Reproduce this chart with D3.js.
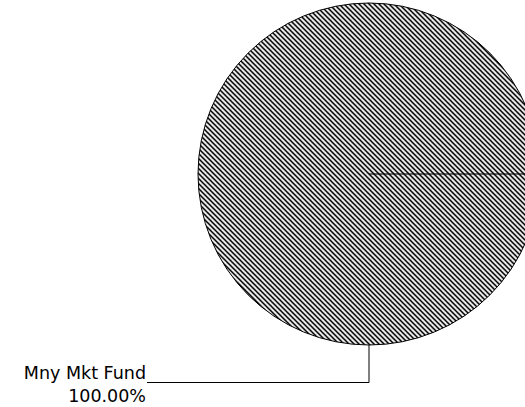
<!DOCTYPE html>
<html>
<head>
<meta charset="utf-8">
<script src="https://cdn.jsdelivr.net/npm/d3@7"></script>
<style>
  body { margin: 0; background: #fff; }
  svg { display: block; }
  text { font-family: "DejaVu Sans", Verdana, sans-serif; font-size: 17.5px; fill: #000; }
</style>
</head>
<body>
<svg width="525" height="407"></svg>
<script>
var labels = ["Mny Mkt Fund"];
var values = [100];
var pctLabels = ["100.00%"];

var svg = d3.select("svg"),
    cx = 369,
    cy = 174,
    radius = 171;

// hatched fill
var defs = svg.append("defs");
var pat = defs.append("pattern")
    .attr("id", "hatch")
    .attr("patternUnits", "userSpaceOnUse")
    .attr("width", 5)
    .attr("height", 5);
pat.append("rect")
    .attr("width", 5)
    .attr("height", 5)
    .attr("fill", "#9a9a9a");
pat.append("path")
    .attr("d", "M0,2.5L2.5,5M2.5,0L5,2.5")
    .attr("stroke", "#ffffff")
    .attr("stroke-width", 1.2);
pat.append("path")
    .attr("d", "M-1,-1L6,6M-1,4L1,6M4,-1L6,1")
    .attr("stroke", "#000")
    .attr("stroke-width", 1.2);

var pie = d3.pie()
    .sort(null)
    .startAngle(Math.PI / 2)
    .endAngle(Math.PI / 2 + 2 * Math.PI);

var arcs = pie(values);

var arc = d3.arc()
    .innerRadius(0)
    .outerRadius(radius);

var g = svg.append("g")
    .attr("transform", "translate(" + cx + "," + cy + ")");

g.selectAll("path.slice")
    .data(arcs)
    .enter().append("path")
    .attr("class", "slice")
    .attr("d", arc)
    .attr("fill", "url(#hatch)")
    .attr("stroke", "#000")
    .attr("stroke-width", 1);

// slice edge (radius at start angle)
g.selectAll("line.edge")
    .data(arcs)
    .enter().append("line")
    .attr("class", "edge")
    .attr("x1", 0)
    .attr("y1", 0)
    .attr("x2", function(d) { return radius * Math.sin(d.startAngle); })
    .attr("y2", function(d) { return -radius * Math.cos(d.startAngle); })
    .attr("stroke", "#000")
    .attr("stroke-width", 1.2);

// leader line and label
var labelAngle = Math.PI;
var lx = radius * Math.sin(labelAngle),
    ly = -radius * Math.cos(labelAngle);
var elbowY = ly + 37.5,
    endX = 147 - cx;

g.append("path")
    .attr("d", "M" + lx + "," + ly + "L" + lx + "," + elbowY + "L" + endX + "," + elbowY)
    .attr("fill", "none")
    .attr("stroke", "#000")
    .attr("stroke-width", 1);

var lab = g.append("text")
    .attr("text-anchor", "end")
    .attr("x", endX - 1)
    .attr("y", elbowY - 4);
lab.append("tspan")
    .attr("x", endX - 1)
    .text(labels[0]);
lab.append("tspan")
    .attr("x", endX - 1)
    .attr("dy", 23)
    .text(pctLabels[0]);
</script>
</body>
</html>
